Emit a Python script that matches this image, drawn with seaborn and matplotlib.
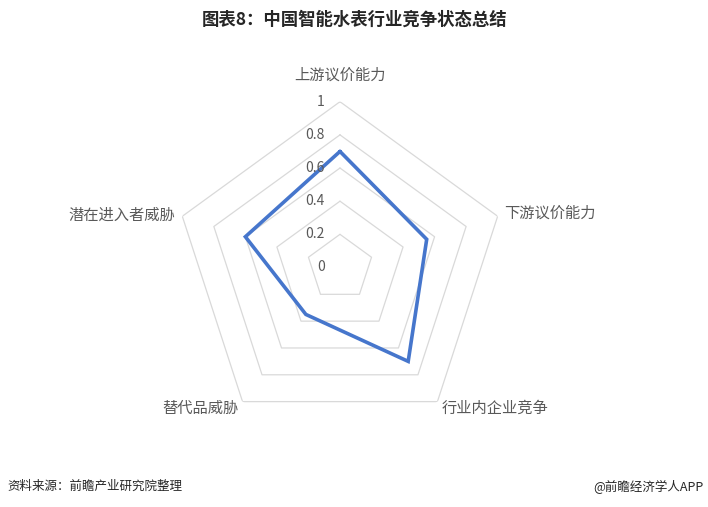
"""Radar chart: 中国智能水表行业竞争状态总结."""

import matplotlib

matplotlib.use("Agg")
import matplotlib.pyplot as plt  # noqa: E402
import numpy as np  # noqa: E402
import seaborn as sns  # noqa: E402

categories = ["上游议价能力", "下游议价能力", "行业内企业竞争", "替代品威胁", "潜在进入者威胁"]
scores = [0.7, 0.55, 0.7, 0.35, 0.6]
ring_ticks = [0, 0.2, 0.4, 0.6, 0.8, 1.0]
ring_labels = ["0", "0.2", "0.4", "0.6", "0.8", "1"]

title = "图表8：中国智能水表行业竞争状态总结"
source = "资料来源：前瞻产业研究院整理"
brand = "@前瞻经济学人APP"

sns.set_theme(style="white")
plt.rcParams["font.family"] = ["Noto Sans CJK SC", "DejaVu Sans"]

fig = plt.figure(figsize=(7.08, 5.07), dpi=100)
ax = fig.add_axes([0.2460, 0.1454, 0.4684, 0.654], projection="polar")
ax.set_theta_offset(np.pi / 2)
ax.set_theta_direction(-1)
ax.set_ylim(0, 1)
ax.grid(False)
ax.spines["polar"].set_visible(False)
ax.set_xticks([])
ax.set_yticks([])
ax.patch.set_alpha(0)

n = len(categories)
angles = np.linspace(0, 2 * np.pi, n, endpoint=False)
closed = np.append(angles, angles[0])

# pentagon rings only (no spokes in the original)
grid_color = "#d9d9d9"
for r in ring_ticks[1:]:
    ax.plot(closed, [r] * (n + 1), color=grid_color, lw=0.9, zorder=1)

vals = np.append(scores, scores[0])
ax.plot(closed, vals, color="#4676cc", lw=2.6, zorder=3, solid_joinstyle="miter")

for r, lab in zip(ring_ticks, ring_labels):
    ax.annotate(lab, xy=(0, r), xytext=(-11, 0), textcoords="offset points",
                ha="right", va="center", fontsize=10, color="#595959", zorder=4)

# category labels: offsets (points) and alignment per vertex
label_pos = [
    ((0, 13), "center", "bottom"),
    ((5, 2), "left", "center"),
    ((3, -5), "left", "center"),
    ((-3, -5), "right", "center"),
    ((-5, 1), "right", "center"),
]
for a, name, (off, ha, va) in zip(angles, categories, label_pos):
    ax.annotate(name, xy=(a, 1), xytext=off, textcoords="offset points",
                ha=ha, va=va, fontsize=11, color="#595959")

fig.text(0.501, 0.962, title, ha="center", va="center", fontsize=12.5,
         fontweight="bold", color="#262626")
fig.text(0.010, 0.040, source, ha="left", va="center", fontsize=9, color="#262626")
fig.text(0.993, 0.040, brand, ha="right", va="center", fontsize=9, color="#262626")

fig.savefig("out.png", dpi=100)
plt.close(fig)
